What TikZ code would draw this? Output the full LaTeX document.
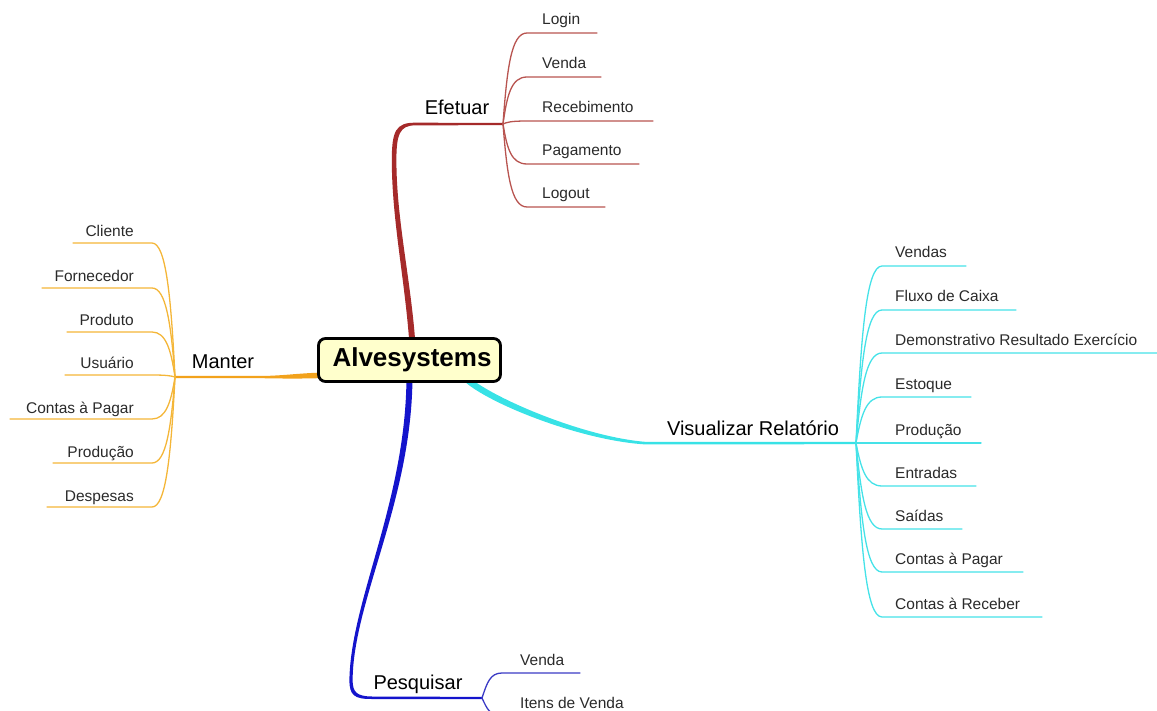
\documentclass[tikz,border=0pt]{standalone}
\usepackage{fontspec}
\setmainfont{Liberation Sans}
\usetikzlibrary{calc,backgrounds}
\definecolor{efetuarC}{HTML}{A52A2A}
\definecolor{efetuarL}{HTML}{B85450}
\definecolor{manterC}{HTML}{F2A21C}
\definecolor{manterL}{HTML}{F4B638}
\definecolor{visC}{HTML}{38E2E6}
\definecolor{visL}{HTML}{45E2E8}
\definecolor{pesqC}{HTML}{1414CC}
\definecolor{pesqL}{HTML}{3A3AC4}
\definecolor{rootfill}{HTML}{FFFFCC}
\definecolor{leaftext}{HTML}{2A2A2A}

\begin{document}
\begin{tikzpicture}[x=1pt,y=-1pt,
  leaf/.style={font=\fontsize{15.5}{18}\selectfont, inner sep=0pt, text=leaftext},
  branch/.style={font=\fontsize{20}{24}\selectfont, inner sep=0pt},
  twig/.style={line width=1.3pt, line cap=round},
  rootbox/.style={draw, line width=2.8pt, rounded corners=7pt, fill=rootfill,
    minimum width=182pt, minimum height=43pt, inner sep=0pt,
    font=\fontsize{26}{30}\selectfont\bfseries},
]
\useasboundingbox (0,0) rectangle (1157,711);
\clip (0,0) rectangle (1157,711);

% central topic
\node[rootbox] (root) at (409.5,360) {\hspace{5pt}Alvesystems};

% branch junctions
\coordinate (efj) at (503,124);
\coordinate (maj) at (175,377);
\coordinate (vij) at (856,443);
\coordinate (pej) at (482,698);

% branch labels
\node[branch, anchor=base] (efetuar) at (457,115) {Efetuar};
\node[branch, anchor=base] (manter) at (223,368) {Manter};
\node[branch, anchor=base] (visualizar) at (753,435) {Visualizar Relatório};
\node[branch, anchor=base] (pesquisar) at (418,689) {Pesquisar};

% tapered main branches, behind the central box
\begin{pgfonlayer}{background}
\fill[efetuarC] ($(root.north)+(0,8)$) .. controls (405,280) and (391.8,220) .. (391.8,160)
  .. controls (391.8,131) and (396,122.6) .. (415,122.7) -- ($(efj)+(0,-1.1)$)
  -- ($(efj)+(0,1.1)$) -- (415,125.4) .. controls (400,125.4) and (396.4,134) .. (396.4,160)
  .. controls (396.4,220) and (411,280) .. ($(root.north)+(6,8)$) -- cycle;

\fill[pesqC] ($(root.south)+(3,-8)$) .. controls (412.5,500) and (353.3,600) .. (352.6,680)
  .. controls (352.6,692.5) and (357,696.3) .. (372,696.5)
  -- ($(pej)+(0,-1.1)$) -- ($(pej)+(0,1.1)$) -- (372,699)
  .. controls (354,699.2) and (349.4,695) .. (349.4,680)
  .. controls (350.7,600) and (406.5,500) .. ($(root.south)+(-3,-8)$) -- cycle;

\fill[visC] ($(root.south east)+(-34,-7)$) .. controls (487,395) and (580,436.4) .. (645,441.8)
  -- ($(vij)+(0,-1.2)$) -- ($(vij)+(0,1.2)$) -- (645,444.4)
  .. controls (578,440.2) and (482,401) .. ($(root.south east)+(-40,-4)$) -- cycle;

\fill[manterC] ($(root.west)+(8,12.5)$) .. controls (300,373) and (285,375.6) .. (262,376)
  -- ($(maj)+(0,-1.1)$) -- ($(maj)+(0,1.1)$) -- (262,378.2)
  .. controls (285,378.6) and (300,378.8) .. ($(root.west)+(8,18)$) -- cycle;
\end{pgfonlayer}

% Efetuar sub-topics
\foreach \y/\txt/\e/\n in {33/Login/597/login, 77/Venda/601/venda,
    121/Recebimento/653/receb, 164/Pagamento/639/pag, 207/Logout/605/logout}{
  \node[leaf, anchor=base west] (ef-\n) at (542,\y-8) {\txt};
  \coordinate (ef-\n-e) at (\e,\y);
  \draw[twig, efetuarL] (efj) .. controls (507,{124+0.6*(\y-124)}) and (511,\y) .. (527,\y) -- (ef-\n-e);
}

% Manter sub-topics
\foreach \y/\txt/\s/\n in {243/Cliente/73/cli, 288/Fornecedor/42/forn, 332/Produto/67/prod,
    375/Usuário/65/usu, 419/Contas à Pagar/10/cont, 463/Produção/53/prodc, 507/Despesas/47/desp}{
  \node[leaf, anchor=base east] (ma-\n) at (134,\y-6) {\txt};
  \coordinate (ma-\n-s) at (\s,\y);
  \draw[twig, manterL] (ma-\n-s) -- (152,\y) .. controls (166,\y) and (171,{377+0.6*(\y-377)}) .. (maj);
}

% Visualizar Relatório sub-topics
\foreach \y/\txt/\e/\n in {266/Vendas/966/vendas, 310/Fluxo de Caixa/1016/fluxo,
    353/Demonstrativo Resultado Exercício/1170/dre, 397/Estoque/971/estoque,
    443/Produção/981/producao, 486/Entradas/976/entradas, 529/Saídas/962/saidas,
    572/Contas à Pagar/1023/pagar, 617/Contas à Receber/1042/receber}{
  \node[leaf, anchor=base west] (vi-\n) at (895,\y-8) {\txt};
  \coordinate (vi-\n-e) at (\e,\y);
  \draw[twig, visL] (vij) .. controls (861,{443+0.6*(\y-443)}) and (866,\y) .. (882,\y) -- (vi-\n-e);
}

% Pesquisar sub-topics
\foreach \y/\txt/\e/\n in {673/Venda/580/venda, 716/Itens de Venda/625/itens}{
  \node[leaf, anchor=base west] (pe-\n) at (520,\y-8) {\txt};
  \coordinate (pe-\n-e) at (\e,\y);
  \draw[twig, pesqL] (pej) .. controls (487,{698+0.6*(\y-698)}) and (490,\y) .. (502,\y) -- (pe-\n-e);
}
\end{tikzpicture}
\end{document}
